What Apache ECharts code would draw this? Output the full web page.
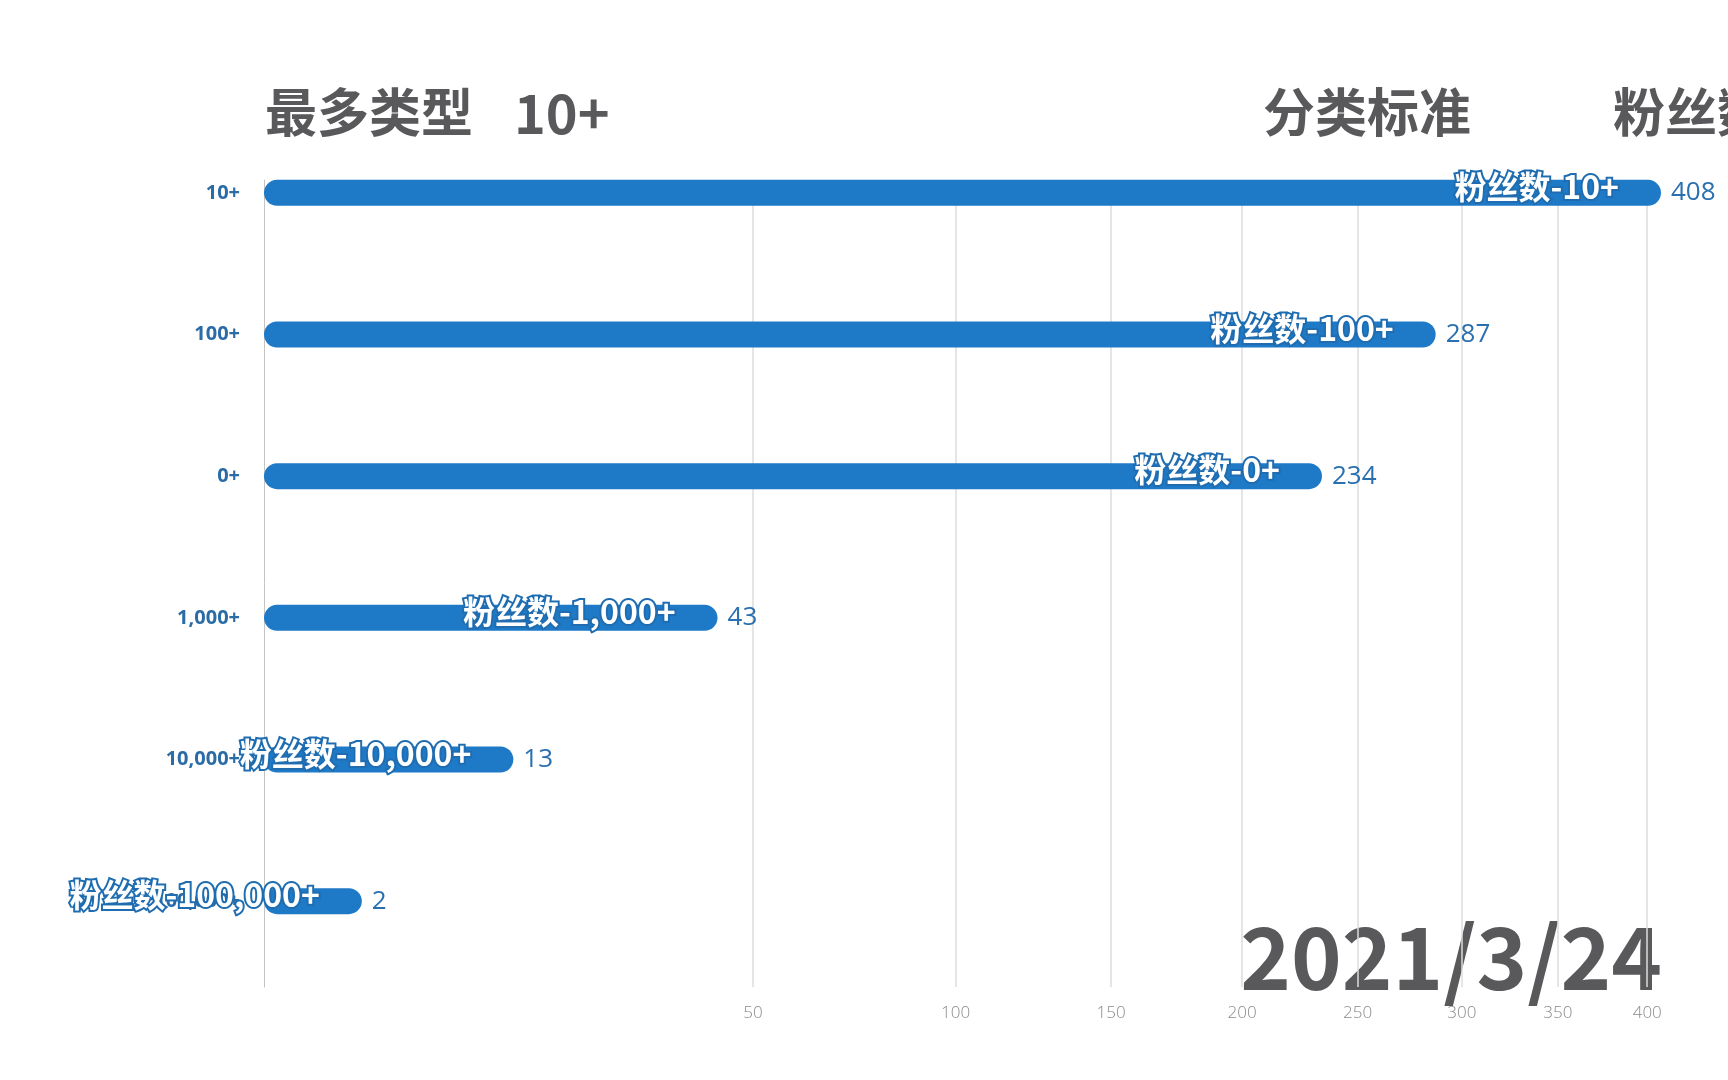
<!DOCTYPE html>
<html>
<head>
<meta charset="utf-8">
<script src="https://cdn.jsdelivr.net/npm/echarts@6/dist/echarts.min.js"></script>
<style>
html,body{margin:0;padding:0;background:#fff;}
#chart{width:1728px;height:1080px;}
</style>
</head>
<body>
<div id="chart"></div>
<script>
// ---- data ----
const categories = ['10+', '100+', '0+', '1,000+', '10,000+', '100,000+'];
const values = [408, 287, 234, 43, 13, 2];
const barPrefix = '粉丝数-';
const tickValues = [50, 100, 150, 200, 250, 300, 350, 400];
const headerLabel = '最多类型';
const headerValue = '10+';
const headerStd = '分类标准';
const headerStdValue = '粉丝数';
const dateText = '2021/3/24';

// ---- chart ----
const sqrt = v => Math.sqrt(v);
const xMax = sqrt(Math.max.apply(null, values));
const sqrtVals = values.map(sqrt);
const CJK = '"Noto Sans CJK SC", "Noto Sans", sans-serif';
const BLUE = '#1e7ac7';

const chart = echarts.init(document.getElementById('chart'));
chart.setOption({
  animation: false,
  backgroundColor: '#ffffff',
  grid: [
    { left: 264, right: 67, top: 122, bottom: 108 },
    { left: 264, right: 67, top: 180, bottom: 93 }
  ],
  xAxis: [
    { gridIndex: 0, type: 'value', min: 0, max: xMax, show: false },
    {
      gridIndex: 1, type: 'value', min: 0, max: xMax,
      axisLine: { show: false },
      axisTick: { show: false, customValues: tickValues.map(sqrt) },
      splitLine: { show: true, lineStyle: { color: '#dcdcdc', width: 1.5 } },
      axisLabel: {
        customValues: tickValues.map(sqrt),
        formatter: v => String(Math.round(v * v)),
        color: '#8a8a8a', fontSize: 17, fontFamily: '"Open Sans", "Noto Sans", sans-serif',
        fontWeight: 300, margin: 18
      }
    }
  ],
  yAxis: [
    {
      gridIndex: 0, type: 'category', data: categories, inverse: true,
      axisLine: { show: false }, axisTick: { show: false }, splitLine: { show: false },
      axisLabel: { color: '#2b6ca6', fontWeight: 'bold', fontSize: 20, margin: 24,
        fontFamily: '"Open Sans", "Noto Sans", sans-serif' }
    },
    {
      gridIndex: 1, type: 'value', min: 0, max: 1,
      axisLine: { show: true, onZero: false, lineStyle: { color: '#c4c4c4', width: 1 } },
      axisTick: { show: false }, axisLabel: { show: false }, splitLine: { show: false }
    }
  ],
  graphic: [
    { type: 'text', left: 265, top: 86, z: -1,
      style: { text: headerLabel, fill: '#59585b', font: 'bold 52px ' + CJK } },
    { type: 'text', left: 514, top: 86, z: -1,
      style: { text: headerValue, fill: '#59585b', font: 'bold 54px ' + CJK } },
    { type: 'text', left: 1263, top: 86, z: -1,
      style: { text: headerStd, fill: '#59585b', font: 'bold 52px ' + CJK } },
    { type: 'text', left: 1613, top: 86, z: -1,
      style: { text: headerStdValue, fill: '#59585b', font: 'bold 52px ' + CJK } },
    { type: 'text', right: 66, top: 914, z: -1,
      style: { text: dateText, fill: '#59585b', font: 'bold 86px ' + CJK } }
  ],
  series: [
    {
      type: 'bar', xAxisIndex: 0, yAxisIndex: 0,
      data: sqrtVals, barWidth: 26,
      itemStyle: { color: BLUE, borderRadius: 13 },
      label: {
        show: true, position: 'right', distance: 10,
        formatter: p => String(values[p.dataIndex]),
        color: '#2a6fb0', fontSize: 26, fontFamily: '"Open Sans", "Noto Sans", sans-serif'
      },
      z: 2
    },
    {
      type: 'bar', xAxisIndex: 0, yAxisIndex: 0,
      data: sqrtVals, barWidth: 26, barGap: '-100%',
      itemStyle: { color: 'rgba(0,0,0,0)' },
      label: {
        show: true, position: 'insideRight', distance: 42, offset: [0, -6],
        formatter: p => barPrefix + categories[p.dataIndex],
        color: '#ffffff', fontSize: 32, fontWeight: 'bold', fontFamily: CJK,
        textBorderColor: '#1f6db0', textBorderWidth: 4
      },
      z: 3
    }
  ]
});
</script>
</body>
</html>
